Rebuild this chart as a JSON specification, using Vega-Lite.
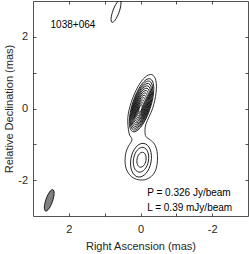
{
  "$schema": "https://vega.github.io/schema/vega-lite/v6.json",
  "width": 215,
  "height": 215,
  "autosize": {"type": "none"},
  "padding": {"left": 33, "top": 1, "right": 1, "bottom": 38},
  "config": {"view": {"stroke": null}, "font": "Liberation Sans"},
  "datasets": {
    "outer": [
      {"i": 0, "x": -0.318, "y": 0.946},
      {"i": 1, "x": -0.428, "y": 0.783},
      {"i": 2, "x": -0.434, "y": 0.435},
      {"i": 3, "x": -0.335, "y": -0.006},
      {"i": 4, "x": -0.156, "y": -0.421},
      {"i": 5, "x": -0.126, "y": -0.63},
      {"i": 6, "x": -0.153, "y": -0.784},
      {"i": 7, "x": -0.279, "y": -0.882},
      {"i": 8, "x": -0.391, "y": -0.994},
      {"i": 9, "x": -0.46, "y": -1.19},
      {"i": 10, "x": -0.474, "y": -1.443},
      {"i": 11, "x": -0.432, "y": -1.695},
      {"i": 12, "x": -0.307, "y": -1.891},
      {"i": 13, "x": -0.112, "y": -1.989},
      {"i": 14, "x": 0.112, "y": -1.975},
      {"i": 15, "x": 0.293, "y": -1.863},
      {"i": 16, "x": 0.404, "y": -1.667},
      {"i": 17, "x": 0.432, "y": -1.443},
      {"i": 18, "x": 0.404, "y": -1.218},
      {"i": 19, "x": 0.335, "y": -1.05},
      {"i": 20, "x": 0.237, "y": -0.868},
      {"i": 21, "x": 0.321, "y": -0.686},
      {"i": 22, "x": 0.354, "y": -0.255},
      {"i": 23, "x": 0.255, "y": 0.186},
      {"i": 24, "x": 0.076, "y": 0.601},
      {"i": 25, "x": -0.134, "y": 0.879}
    ],
    "core": [
      {"x": 0.0, "y": 0.0, "major": 0.22, "angle": 18},
      {"x": -0.003, "y": 0.008, "major": 0.341, "angle": 18},
      {"x": -0.005, "y": 0.016, "major": 0.462, "angle": 18},
      {"x": -0.008, "y": 0.025, "major": 0.582, "angle": 18},
      {"x": -0.011, "y": 0.033, "major": 0.703, "angle": 18},
      {"x": -0.013, "y": 0.041, "major": 0.825, "angle": 18},
      {"x": -0.016, "y": 0.049, "major": 0.946, "angle": 18},
      {"x": -0.019, "y": 0.058, "major": 1.067, "angle": 18},
      {"x": -0.021, "y": 0.066, "major": 1.187, "angle": 18},
      {"x": -0.024, "y": 0.074, "major": 1.308, "angle": 18},
      {"x": -0.027, "y": 0.082, "major": 1.429, "angle": 18},
      {"x": -0.029, "y": 0.09, "major": 1.55, "angle": 18}
    ],
    "lower": [
      {"x": -0.014, "y": -1.443, "major": 0.95, "angle": 10},
      {"x": -0.014, "y": -1.43, "major": 0.7, "angle": 10},
      {"x": -0.028, "y": -1.43, "major": 0.42, "angle": 10}
    ],
    "jet": [
      {"x": 0.683, "y": 2.711, "major": 0.65, "angle": 20}
    ],
    "beam": [
      {"x": 2.547, "y": -2.563, "major": 0.63, "angle": 19}
    ],
    "labels": [
      {"x": 2.51, "y": 2.339, "text": "1038+064"},
      {"x": -0.187, "y": -2.358, "text": "P = 0.326 Jy/beam"},
      {"x": -0.187, "y": -2.779, "text": "L = 0.39 mJy/beam"}
    ]
  },
  "resolve": {"axis": {"x": "independent", "y": "independent"}},
  "layer": [
    {
      "data": {"name": "outer"},
      "mark": {"type": "line", "interpolate": "cardinal-closed", "color": "black", "strokeWidth": 0.8},
      "encoding": {
        "x": {
          "field": "x", "type": "quantitative",
          "scale": {"domain": [-3, 3], "reverse": true, "nice": false, "zero": false},
          "axis": {
            "orient": "bottom", "values": [-2, -1, 0, 1, 2],
            "labelExpr": "datum.value % 2 == 0 ? '' + datum.value : ''",
            "grid": false, "tickSize": -3, "tickColor": "#262626", "tickWidth": 0.8,
            "domainColor": "#262626", "domainWidth": 0.8,
            "labelFontSize": 11, "labelColor": "#262626", "labelPadding": 10,
            "title": "Right Ascension (mas)", "titleFontSize": 11, "titleFontWeight": "normal",
            "titleColor": "#262626", "titlePadding": 6
          }
        },
        "y": {
          "field": "y", "type": "quantitative",
          "scale": {"domain": [-3, 3], "nice": false, "zero": false},
          "axis": {
            "orient": "left", "values": [-2, -1, 0, 1, 2],
            "labelExpr": "datum.value % 2 == 0 ? '' + datum.value : ''",
            "grid": false, "tickSize": -3, "tickColor": "#262626", "tickWidth": 0.8,
            "domainColor": "#262626", "domainWidth": 0.8,
            "labelFontSize": 11, "labelColor": "#262626", "labelPadding": 8.5,
            "title": "Relative Declination (mas)", "titleFontSize": 11, "titleFontWeight": "normal",
            "titleColor": "#262626", "titlePadding": 3
          }
        },
        "order": {"field": "i", "type": "quantitative"}
      }
    },
    {
      "data": {"name": "core"},
      "mark": {"type": "point", "filled": false, "color": "black", "strokeWidth": 0.8, "opacity": 1,
        "shape": "M 0 -1 C 0.1823 -1 0.33 -0.5523 0.33 0 C 0.33 0.5523 0.1823 1 0 1 C -0.1823 1 -0.33 0.5523 -0.33 0 C -0.33 -0.5523 -0.1823 -1 0 -1 Z"},
      "encoding": {
        "x": {"field": "x", "type": "quantitative", "scale": {"domain": [-3, 3], "reverse": true, "nice": false, "zero": false}, "axis": null},
        "y": {"field": "y", "type": "quantitative", "scale": {"domain": [-3, 3], "nice": false, "zero": false}, "axis": null},
        "size": {"field": "major", "type": "quantitative", "scale": {"type": "pow", "exponent": 2, "domain": [0, 6], "range": [0, 46225]}, "legend": null},
        "angle": {"field": "angle", "type": "quantitative", "scale": null}
      }
    },
    {
      "data": {"name": "lower"},
      "mark": {"type": "point", "filled": false, "color": "black", "strokeWidth": 0.8, "opacity": 1,
        "shape": "M 0 -1 C 0.3314 -1 0.6 -0.5523 0.6 0 C 0.6 0.5523 0.3314 1 0 1 C -0.3314 1 -0.6 0.5523 -0.6 0 C -0.6 -0.5523 -0.3314 -1 0 -1 Z"},
      "encoding": {
        "x": {"field": "x", "type": "quantitative", "scale": {"domain": [-3, 3], "reverse": true, "nice": false, "zero": false}, "axis": null},
        "y": {"field": "y", "type": "quantitative", "scale": {"domain": [-3, 3], "nice": false, "zero": false}, "axis": null},
        "size": {"field": "major", "type": "quantitative", "scale": {"type": "pow", "exponent": 2, "domain": [0, 6], "range": [0, 46225]}, "legend": null},
        "angle": {"field": "angle", "type": "quantitative", "scale": null}
      }
    },
    {
      "data": {"name": "jet"},
      "mark": {"type": "point", "filled": false, "color": "black", "strokeWidth": 0.8, "opacity": 1, "clip": true,
        "shape": "M 0 -1 C 0.1491 -1 0.27 -0.5523 0.27 0 C 0.27 0.5523 0.1491 1 0 1 C -0.1491 1 -0.27 0.5523 -0.27 0 C -0.27 -0.5523 -0.1491 -1 0 -1 Z"},
      "encoding": {
        "x": {"field": "x", "type": "quantitative", "scale": {"domain": [-3, 3], "reverse": true, "nice": false, "zero": false}, "axis": null},
        "y": {"field": "y", "type": "quantitative", "scale": {"domain": [-3, 3], "nice": false, "zero": false}, "axis": null},
        "size": {"field": "major", "type": "quantitative", "scale": {"type": "pow", "exponent": 2, "domain": [0, 6], "range": [0, 46225]}, "legend": null},
        "angle": {"field": "angle", "type": "quantitative", "scale": null}
      }
    },
    {
      "data": {"name": "beam"},
      "mark": {"type": "point", "filled": true, "fill": "#808080", "stroke": "black", "strokeWidth": 0.8, "opacity": 1,
        "shape": "M 0 -1 C 0.1657 -1 0.3 -0.5523 0.3 0 C 0.3 0.5523 0.1657 1 0 1 C -0.1657 1 -0.3 0.5523 -0.3 0 C -0.3 -0.5523 -0.1657 -1 0 -1 Z"},
      "encoding": {
        "x": {"field": "x", "type": "quantitative", "scale": {"domain": [-3, 3], "reverse": true, "nice": false, "zero": false},
          "axis": {"orient": "top", "values": [-2, -1, 0, 1, 2], "labels": false, "title": null, "grid": false,
            "tickSize": -3, "tickColor": "#262626", "tickWidth": 0.8, "domainColor": "#262626", "domainWidth": 0.8}},
        "y": {"field": "y", "type": "quantitative", "scale": {"domain": [-3, 3], "nice": false, "zero": false},
          "axis": {"orient": "right", "values": [-2, -1, 0, 1, 2], "labels": false, "title": null, "grid": false,
            "tickSize": -3, "tickColor": "#262626", "tickWidth": 0.8, "domainColor": "#262626", "domainWidth": 0.8}},
        "size": {"field": "major", "type": "quantitative", "scale": {"type": "pow", "exponent": 2, "domain": [0, 6], "range": [0, 46225]}, "legend": null},
        "angle": {"field": "angle", "type": "quantitative", "scale": null}
      }
    },
    {
      "data": {"name": "labels"},
      "mark": {"type": "text", "align": "left", "baseline": "middle", "fontSize": 10, "color": "black"},
      "encoding": {
        "x": {"field": "x", "type": "quantitative", "scale": {"domain": [-3, 3], "reverse": true, "nice": false, "zero": false}, "axis": null},
        "y": {"field": "y", "type": "quantitative", "scale": {"domain": [-3, 3], "nice": false, "zero": false}, "axis": null},
        "text": {"field": "text", "type": "nominal"}
      }
    }
  ]
}
